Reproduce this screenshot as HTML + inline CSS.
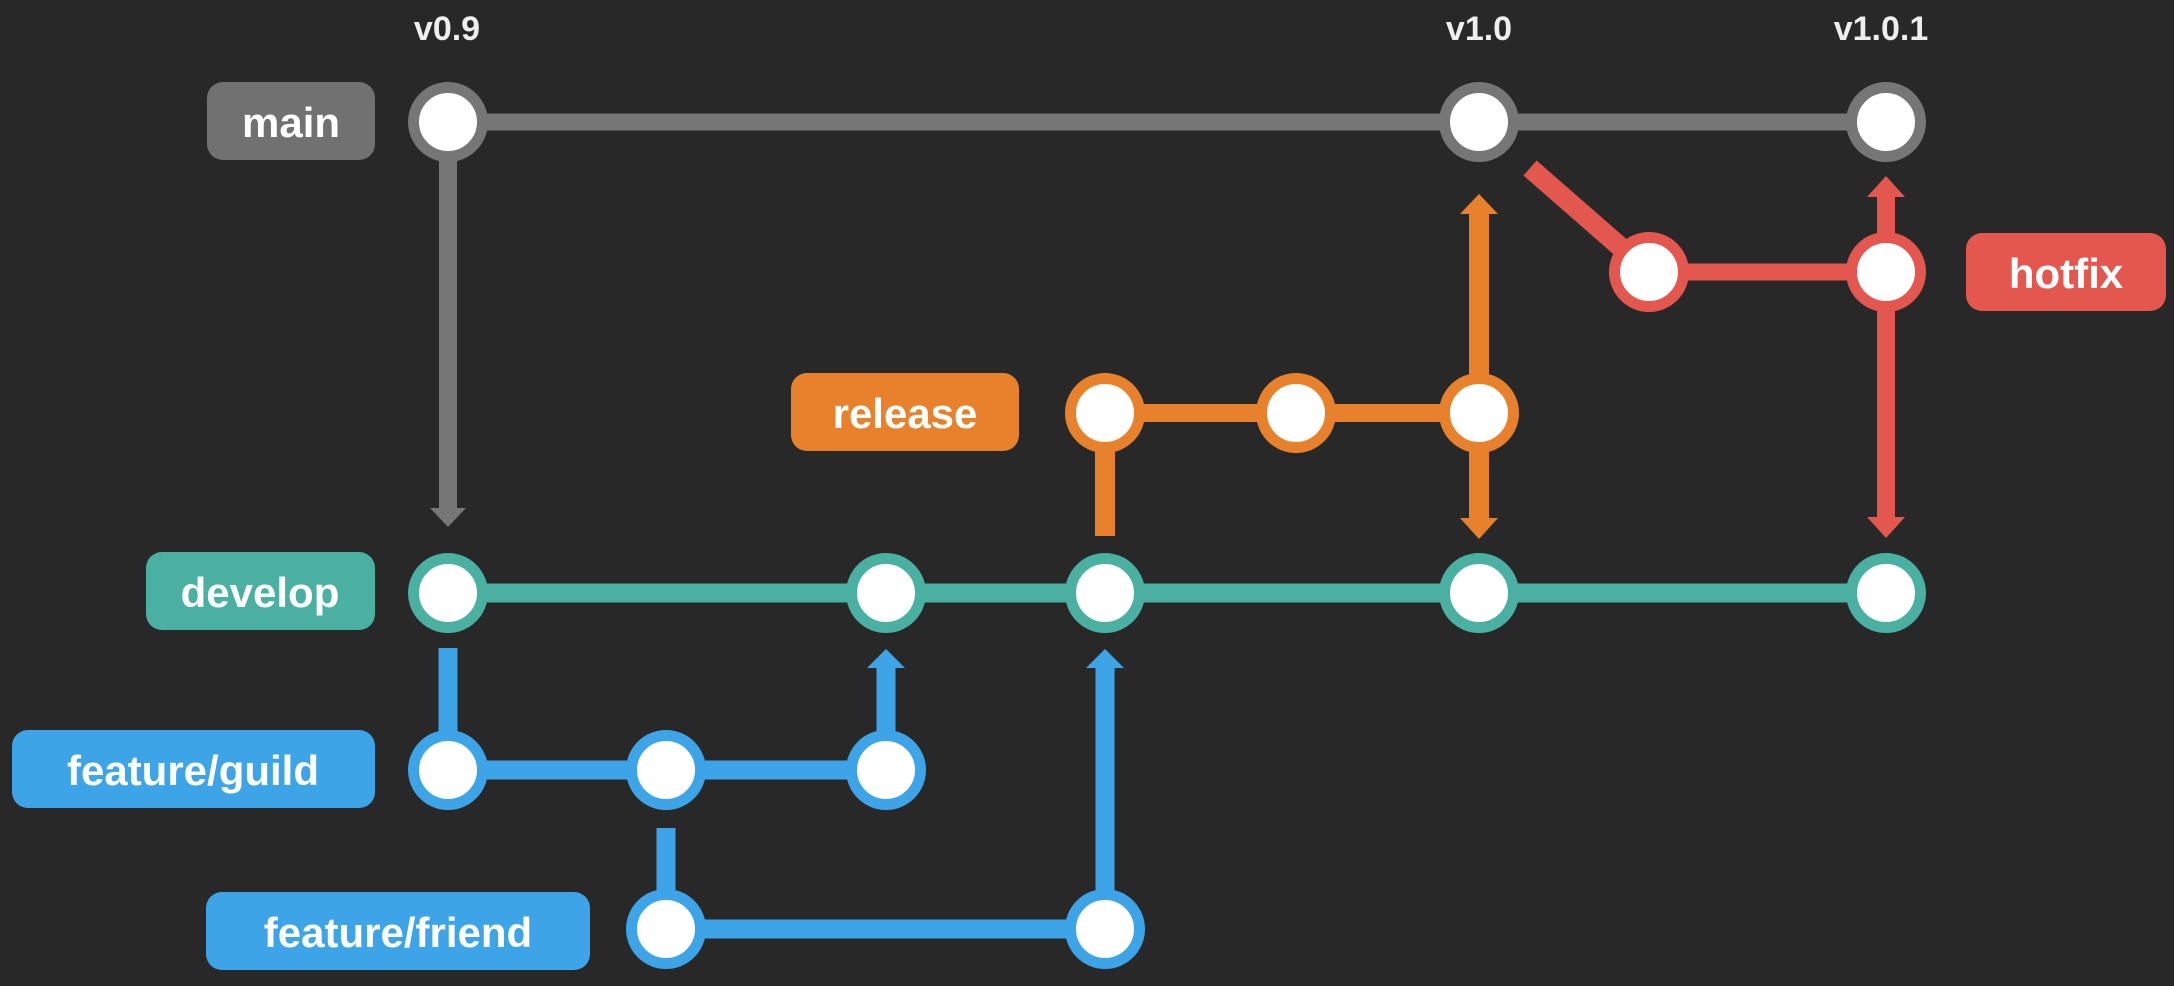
<!DOCTYPE html>
<html><head><meta charset="utf-8"><style>
html,body{margin:0;padding:0;background:#282828;}
svg{display:block;}
text{font-family:"Liberation Sans",sans-serif;font-weight:bold;}
</style></head><body>
<svg width="2174" height="986" viewBox="0 0 2174 986" xmlns="http://www.w3.org/2000/svg">
<rect width="2174" height="986" fill="#282828"/>
<!-- version labels -->
<g fill="#eeeeee" font-size="34" text-anchor="middle">
<text x="447" y="40">v0.9</text>
<text x="1479" y="40">v1.0</text>
<text x="1881" y="40">v1.0.1</text>
</g>
<!-- lines -->
<g stroke-linecap="butt">
<line x1="448" y1="122" x2="1886" y2="122" stroke="#767676" stroke-width="17"/>
<line x1="448" y1="150" x2="448" y2="510" stroke="#767676" stroke-width="18"/>
<line x1="448" y1="593" x2="1886" y2="593" stroke="#4ab0a1" stroke-width="19"/>
<line x1="448" y1="648" x2="448" y2="770" stroke="#3ea4e8" stroke-width="19"/>
<line x1="448" y1="770" x2="886" y2="770" stroke="#3ea4e8" stroke-width="19"/>
<line x1="886" y1="770" x2="886" y2="665" stroke="#3ea4e8" stroke-width="19"/>
<line x1="666" y1="828" x2="666" y2="929" stroke="#3ea4e8" stroke-width="19"/>
<line x1="666" y1="929" x2="1105" y2="929" stroke="#3ea4e8" stroke-width="19"/>
<line x1="1105" y1="929" x2="1105" y2="665" stroke="#3ea4e8" stroke-width="19"/>
<line x1="1105" y1="536" x2="1105" y2="413" stroke="#e8812c" stroke-width="20"/>
<line x1="1105" y1="413" x2="1479" y2="413" stroke="#e8812c" stroke-width="18"/>
<line x1="1479" y1="212" x2="1479" y2="520" stroke="#e8812c" stroke-width="20"/>
<line x1="1530" y1="168" x2="1649" y2="272" stroke="#e3574f" stroke-width="20"/>
<line x1="1649" y1="272" x2="1886" y2="272" stroke="#e3574f" stroke-width="17"/>
<line x1="1886" y1="195" x2="1886" y2="520" stroke="#e3574f" stroke-width="18"/>
</g>
<!-- arrowheads -->
<polygon points="430,508 466,508 448,527" fill="#767676"/>
<polygon points="867,668 905,668 886,649" fill="#3ea4e8"/>
<polygon points="1086,668 1124,668 1105,649" fill="#3ea4e8"/>
<polygon points="1460,214 1498,214 1479,194" fill="#e8812c"/>
<polygon points="1460,518 1498,518 1479,539" fill="#e8812c"/>
<polygon points="1867,197 1905,197 1886,176" fill="#e3574f"/>
<polygon points="1867,517 1905,517 1886,538" fill="#e3574f"/>
<!-- nodes -->
<g fill="#ffffff" stroke-width="11">
<circle cx="448" cy="122" r="34.5" stroke="#767676"/>
<circle cx="1479" cy="122" r="34.5" stroke="#767676"/>
<circle cx="1886" cy="122" r="34.5" stroke="#767676"/>
<circle cx="1649" cy="272" r="34.5" stroke="#e3574f"/>
<circle cx="1886" cy="272" r="34.5" stroke="#e3574f"/>
<circle cx="1105" cy="413" r="34.5" stroke="#e8812c"/>
<circle cx="1296" cy="413" r="34.5" stroke="#e8812c"/>
<circle cx="1479" cy="413" r="34.5" stroke="#e8812c"/>
<circle cx="448" cy="593" r="34.5" stroke="#4ab0a1"/>
<circle cx="886" cy="593" r="34.5" stroke="#4ab0a1"/>
<circle cx="1105" cy="593" r="34.5" stroke="#4ab0a1"/>
<circle cx="1479" cy="593" r="34.5" stroke="#4ab0a1"/>
<circle cx="1886" cy="593" r="34.5" stroke="#4ab0a1"/>
<circle cx="448" cy="770" r="34.5" stroke="#3ea4e8"/>
<circle cx="666" cy="770" r="34.5" stroke="#3ea4e8"/>
<circle cx="886" cy="770" r="34.5" stroke="#3ea4e8"/>
<circle cx="666" cy="929" r="34.5" stroke="#3ea4e8"/>
<circle cx="1105" cy="929" r="34.5" stroke="#3ea4e8"/>
</g>
<!-- labels -->
<rect x="207" y="82" width="168" height="78" rx="16" fill="#717171"/>
<rect x="146" y="552" width="229" height="78" rx="16" fill="#4ab0a1"/>
<rect x="12" y="730" width="363" height="78" rx="16" fill="#3ea4e8"/>
<rect x="206" y="892" width="384" height="78" rx="16" fill="#3ea4e8"/>
<rect x="791" y="373" width="228" height="78" rx="16" fill="#e8812c"/>
<rect x="1966" y="233" width="200" height="78" rx="16" fill="#e3574f"/>
<g fill="#ffffff" font-size="42" text-anchor="middle">
<text x="291" y="137">main</text>
<text x="260" y="607">develop</text>
<text x="193" y="785">feature/guild</text>
<text x="398" y="947">feature/friend</text>
<text x="905" y="428">release</text>
<text x="2066" y="288">hotfix</text>
</g>
</svg>
</body></html>
